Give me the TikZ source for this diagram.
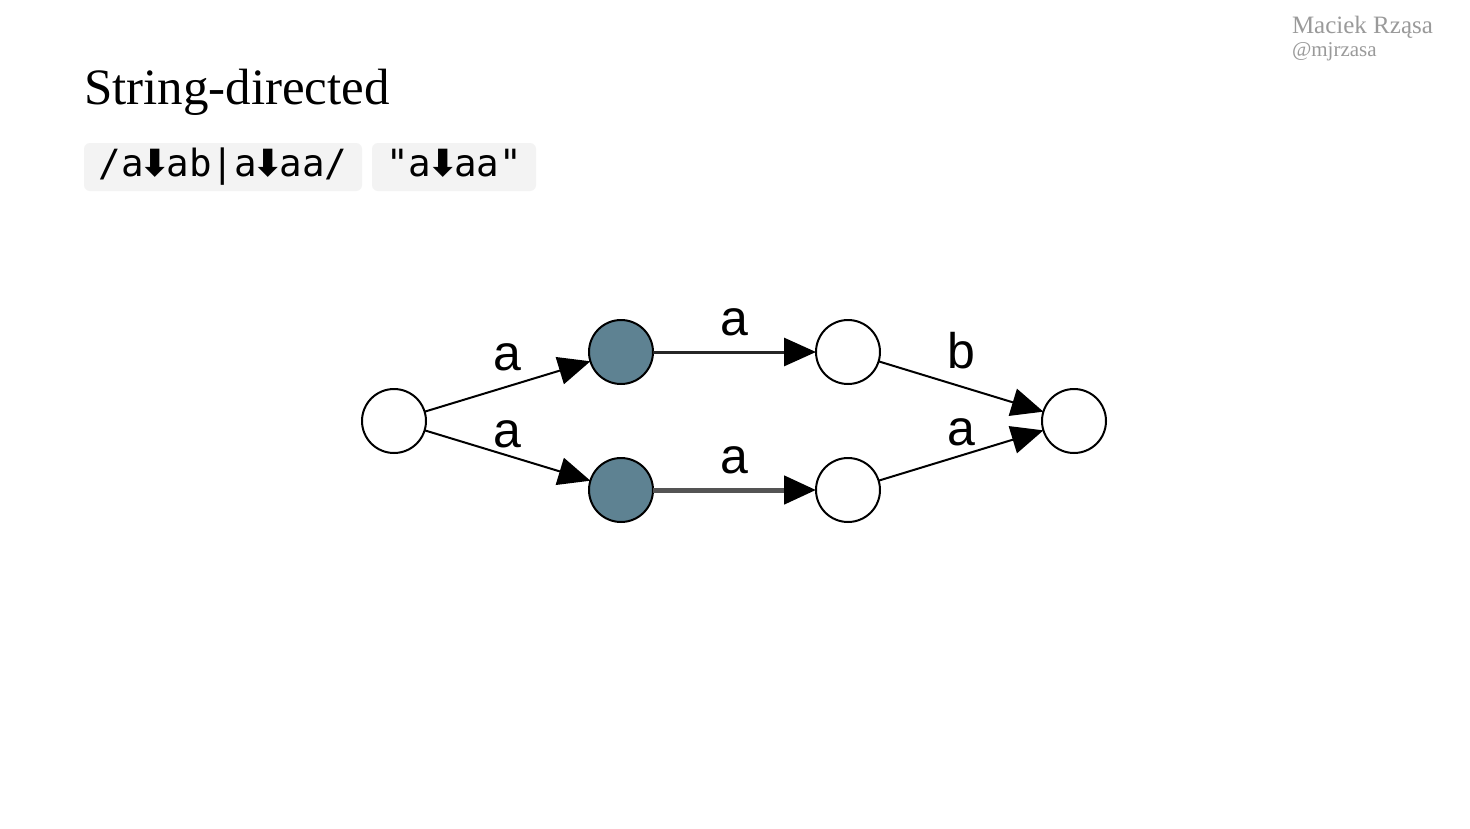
\documentclass[tikz,border=0pt]{standalone}
\usepackage{fontspec}
\setmainfont{Liberation Serif}
\newfontfamily\codefont{DejaVu Sans Mono}
\newfontfamily\symfont{DejaVu Sans}
\newfontfamily\lblfont{Liberation Sans}
\usepackage{tikz}
\usetikzlibrary{arrows.meta,positioning}
\definecolor{visited}{HTML}{5E8292}
\definecolor{chipbg}{HTML}{F3F3F3}
\definecolor{authorgray}{HTML}{9A9A9A}
\newcommand{\dn}{\makebox[0.602em]{\symfont\bfseries ⬇}}
\newcommand{\code}[1]{{\codefont\fontsize{37.5}{40}\selectfont\raisebox{-3pt}{\vphantom{/|}#1}}}

\begin{document}
\begin{tikzpicture}[x=1pt, y=-1pt, every node/.style={inner sep=0pt, outer sep=0pt},
  st/.style={circle, draw=black, line width=2pt, fill=white, minimum size=64pt},
  hit/.style={st, fill=visited},
  tr/.style={-{Triangle[length=32pt, width=28pt, color=black]}, line width=2pt},
  lbl/.style={font=\lblfont\fontsize{50}{50}\selectfont},
  chip/.style={fill=chipbg, rounded corners=6pt, minimum height=48pt, anchor=north west}]
\useasboundingbox (0,0) rectangle (1470,828);
\fill[white] (0,0) rectangle (1470,828);
% ---- header
\node[anchor=base west, font=\fontsize{51}{56}\selectfont] (title) at (84,104) {String-directed};
\node[anchor=base west, text=authorgray, font=\fontsize{25}{28}\selectfont] (author) at (1292,33) {Maciek Rząsa};
\node[anchor=base west, text=authorgray, font=\fontsize{21}{24}\selectfont] (handle) at (1292,56) {@mjrzasa};
% ---- regex and input
\node[chip, minimum width=278pt] (re) at (84,143) {\code{/a\dn ab|a\dn aa/}};
\node[chip, minimum width=164pt, right=10pt of re.north east, anchor=north west] (input) {\code{"a\dn aa"}};
% ---- automaton
\node[st]  (q0) at (394,421) {};
\node[hit] (q1) at (621,352) {};
\node[hit] (q2) at (621,490) {};
\node[st]  (q3) at (848,352) {};
\node[st]  (q4) at (848,490) {};
\node[st]  (q5) at (1074,421) {};
\draw[tr] (q0) -- node[lbl, above=16pt] (l1) {a} (q1);
\draw[tr] (q0) -- node[lbl, above=8pt] (l2) {a} (q2);
\draw[tr, line width=3pt, draw=black!85] (q1) -- node[lbl, above=16pt] (l3) {a} (q3);
\draw[tr, line width=5pt, draw=black!67] (q2) -- node[lbl, above=16pt] (l4) {a} (q4);
\draw[tr] (q3) -- node[lbl, above=18pt] (l5) {b} (q5);
\draw[tr] (q4) -- node[lbl, above=10pt] (l6) {a} (q5);
\end{tikzpicture}
\end{document}
